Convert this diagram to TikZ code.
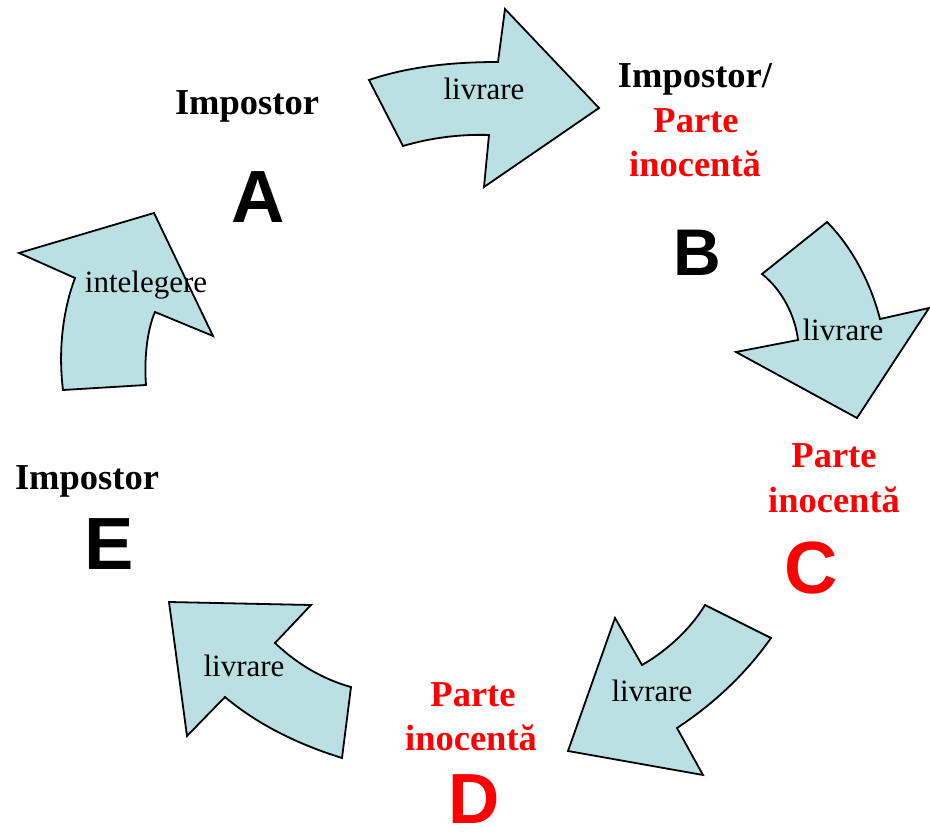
\documentclass[tikz,border=0pt]{standalone}
\usepackage{fontspec}
\setmainfont{Liberation Serif}
\newfontfamily\letterfont{Liberation Sans}
\definecolor{arrowfill}{RGB}{186,224,227}
\definecolor{labred}{RGB}{255,0,0}
\tikzset{
  bigarrow/.style={draw=black, fill=arrowfill, line width=1.8pt, line join=miter},
  arrowtext/.style={font=\fontsize{31}{37}\selectfont, anchor=base, inner sep=0pt},
  lbl/.style={font=\fontsize{36.5}{44}\selectfont\bfseries, anchor=base, inner sep=0pt},
  redlbl/.style={lbl, text=labred},
  letter/.style={font=\letterfont\fontsize{74}{80}\selectfont\bfseries, anchor=center, inner sep=0pt},
}
\begin{document}
\begin{tikzpicture}[x=1pt,y=-1pt]
\useasboundingbox (0,0) rectangle (930,832);

% arrow A -> B (top)
\draw[bigarrow] (369,80) .. controls (410,66) and (455,62) .. (498,62) -- (505,9) -- (599,108)
  -- (484,187) -- (489,135) .. controls (460,134) and (430,138) .. (403,146) -- cycle;
% arrow B -> C (right)
\draw[bigarrow] (762,274) -- (827,222) .. controls (850,245) and (870,280) .. (880,319) -- (929,308)
  -- (857,418) -- (736,352) -- (798,340) .. controls (795,315) and (782,290) .. cycle;
% arrow C -> D (lower right)
\draw[bigarrow] (705,605) -- (771,638) .. controls (745,675) and (712,705) .. (677,728) -- (703,775)
  -- (568,751) -- (615,618) -- (642,665) .. controls (665,652) and (690,630) .. cycle;
% arrow D -> E (lower left)
\draw[bigarrow] (169,602) -- (311,605) -- (275,643) .. controls (298,665) and (325,680) .. (351,687)
  -- (342,758) .. controls (300,745) and (258,725) .. (225,697) -- (187,736) -- cycle;
% arrow E -> A (left)
\draw[bigarrow] (19,253) -- (154,213) -- (213,336) -- (155,312)
  .. controls (147,330) and (144,360) .. (146,385) -- (63,390) .. controls (58,350) and (63,310) .. (75,278) -- cycle;

% arrow texts
\node[arrowtext] (t1) at (484,100) {livrare};
\node[arrowtext] (t2) at (843,340) {livrare};
\node[arrowtext] (t3) at (652,701) {livrare};
\node[arrowtext] (t4) at (244,676) {livrare};
\node[arrowtext] (t5) at (146,292) {intelegere};

% A
\node[lbl] (la) at (247,115) {Impostor};
\node[letter] (ca) at (258,197) {A};
% B
\node[lbl] (lb1) at (695,88) {Impostor/};
\node[redlbl] (lb2) at (696,133) {Parte};
\node[redlbl] (lb3) at (695,177) {inocentă};
\node[letter, font=\letterfont\fontsize{66}{72}\selectfont\bfseries] (cb) at (697,253) {B};
% C
\node[redlbl] (lc1) at (834,467) {Parte};
\node[redlbl] (lc2) at (834,512) {inocentă};
\node[letter, text=labred] (cc) at (811,568) {C};
% D
\node[redlbl] (ld1) at (473,706) {Parte};
\node[redlbl] (ld2) at (471,750) {inocentă};
\node[letter, text=labred, font=\letterfont\fontsize{71}{76}\selectfont\bfseries] (cd) at (474,799) {D};
% E
\node[lbl] (le) at (87,489) {Impostor};
\node[letter] (ce) at (109,544) {E};
\end{tikzpicture}
\end{document}
